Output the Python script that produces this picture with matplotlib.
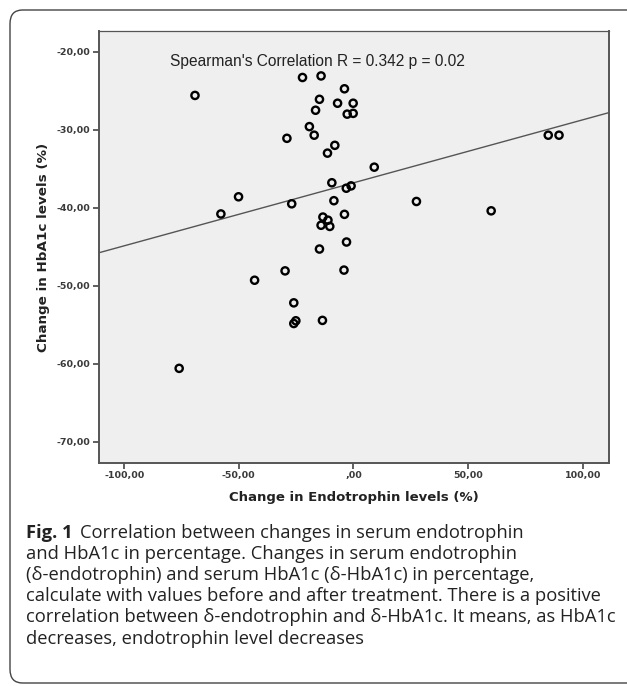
import numpy as np
import matplotlib
matplotlib.use("Agg")
import matplotlib.pyplot as plt
from matplotlib.patches import FancyBboxPatch

# change in endotrophin (%) vs change in HbA1c (%)
endo_change = [-69.1, -22.2, -14.1, -3.9, -14.8, -6.9, -0.1, -16.5, -2.7, -0.1,
               -19.2, -17.1, -29.0, 85.0, 89.7, -8.1, -11.3, 9.1, -9.4, -3.1,
               -1.0, -50.1, -26.9, -8.5, 27.5, 60.1, -57.8, -3.9, -13.3, -11.1,
               -14.1, -10.3, -3.0, -14.8, -29.8, -4.1, -43.1, -26.0, -25.1, -26.0,
               -13.5, -76.0]
hba1c_change = [-25.6, -23.3, -23.1, -24.75, -26.1, -26.6, -26.6, -27.5, -28.0, -27.9,
                -29.6, -30.7, -31.1, -30.7, -30.7, -32.0, -33.0, -34.8, -36.8, -37.5,
                -37.2, -38.6, -39.5, -39.1, -39.2, -40.4, -40.8, -40.85, -41.2, -41.6,
                -42.25, -42.4, -44.4, -45.3, -48.1, -48.0, -49.3, -52.2, -54.5, -54.85,
                -54.45, -60.6]

xticks = [-100, -50, 0, 50, 100]
xtick_labels = ["-100,00", "-50,00", ",00", "50,00", "100,00"]
yticks = [-20, -30, -40, -50, -60, -70]
ytick_labels = ["-20,00", "-30,00", "-40,00", "-50,00", "-60,00", "-70,00"]

caption = [
    "and HbA1c in percentage. Changes in serum endotrophin",
    "(\u03b4-endotrophin) and serum HbA1c (\u03b4-HbA1c) in percentage,",
    "calculate with values before and after treatment. There is a positive",
    "correlation between \u03b4-endotrophin and \u03b4-HbA1c. It means, as HbA1c",
    "decreases, endotrophin level decreases",
]

W, H = 627, 686
fig = plt.figure(figsize=(W / 100, H / 100), dpi=100)

def fx(px):
    return px / W

def fy(py):
    return 1 - py / H

# rounded outer frame
frame = FancyBboxPatch((fx(10), fy(683)), fx(640) - fx(10), fy(10) - fy(683),
                       boxstyle="round,pad=0,rounding_size=0.02",
                       transform=fig.transFigure, fill=False,
                       edgecolor="#444444", linewidth=1.0)
fig.patches.append(frame)

ax = fig.add_axes([fx(98.7), fy(462.7), fx(609) - fx(98.7), fy(30.7) - fy(462.7)])
ax.set_facecolor("#efefef")
for s in ax.spines.values():
    s.set_color("#555555")
    s.set_linewidth(1.4)
ax.spines["top"].set_linewidth(0.9)

ax.scatter(endo_change, hba1c_change, s=27, facecolors="none",
           edgecolors="black", linewidths=1.7, zorder=3)

slope, icpt = np.polyfit(endo_change, hba1c_change, 1)
ax.axline((0, icpt), slope=slope, color="#555555", linewidth=1.0, zorder=2)

ax.set_xlim(-111.1, 111.5)
ax.set_ylim(-72.7, -17.3)
ax.set_xticks(xticks)
ax.set_xticklabels(xtick_labels)
ax.set_yticks(yticks)
ax.set_yticklabels(ytick_labels)
ax.tick_params(direction="out", length=4, width=1.2, color="#444444",
               labelsize=6.8, labelcolor="#3a3a3a", pad=2)
for lab in ax.get_xticklabels() + ax.get_yticklabels():
    lab.set_fontweight("bold")

ax.text(-15.8, -21.3, "Spearman's Correlation R = 0.342 p = 0.02",
        ha="center", va="center", fontsize=11.2, family="Liberation Sans",
        color="#222222")

fig.text(fx(353.5), fy(497), "Change in Endotrophin levels (%)", ha="center",
         va="center", fontsize=9.5, fontweight="bold", color="#222222")
fig.text(fx(44), fy(247), "Change in HbA1c levels (%)", ha="center",
         va="center", rotation=90, fontsize=9.7, fontweight="bold", color="#222222")

# caption
cap_font = "Open Sans"
cap_size = 13.2
line_y = [532.7, 553.9, 575.1, 596.3, 617.5, 638.7]
t0 = fig.text(fx(26), fy(line_y[0]), "Fig. 1", ha="left", va="center",
              fontsize=cap_size, fontweight="bold", family=cap_font, color="#222222")
fig.canvas.draw()
bb = t0.get_window_extent(renderer=fig.canvas.get_renderer())
fig.text(bb.x1 / W + fx(7), fy(line_y[0]), "Correlation between changes in serum endotrophin",
         ha="left", va="center", fontsize=cap_size, family=cap_font, color="#222222")
for i, line in enumerate(caption):
    fig.text(fx(26), fy(line_y[i + 1]), line, ha="left", va="center",
             fontsize=cap_size, family=cap_font, color="#222222")

fig.savefig("out.png", dpi=100)
